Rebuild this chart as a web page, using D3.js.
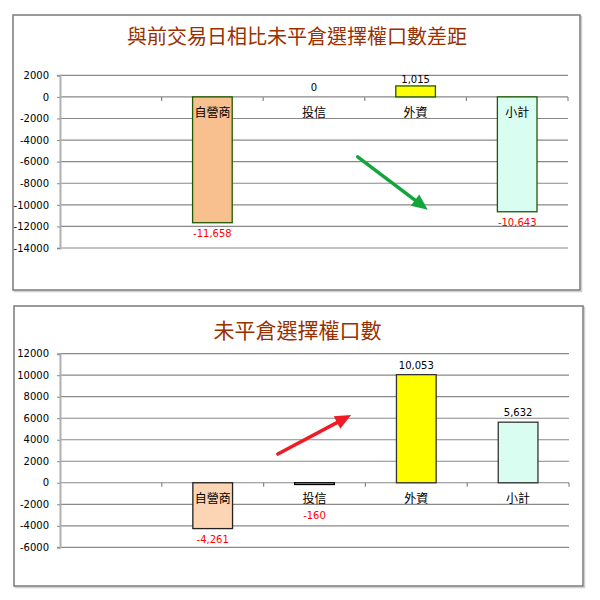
<!DOCTYPE html>
<html>
<head>
<meta charset="utf-8">
<script src="https://cdn.jsdelivr.net/npm/d3@7"></script>
<style>
  body { margin: 0; background: #fff; }
  svg { display: block; }
</style>
</head>
<body>
<script>
// categories (first slot is an empty band, like the sheet it came from)
const categories = ["", "自營商", "投信", "外資", "小計"];

// top chart: change vs previous trading day
const diffTitle = "與前交易日相比未平倉選擇權口數差距";
const diffValues = [null, -11658, 0, 1015, -10643];
const diffTicks = [2000, 0, -2000, -4000, -6000, -8000, -10000, -12000, -14000];
const diffArrowFrom = [2.93, -5560];   // [band units, value]
const diffArrowTo = [3.62, -10460];

// bottom chart: open interest
const oiTitle = "未平倉選擇權口數";
const oiValues = [null, -4261, -160, 10053, 5632];
const oiTicks = [12000, 10000, 8000, 6000, 4000, 2000, 0, -2000, -4000, -6000];
const oiArrowFrom = [2.14, 2670];
const oiArrowTo = [2.86, 6300];

// excel style: plain hyphen for negatives
const fmt = function (v) { return d3.format(",")(v).replace("\u2212", "-"); };
const fmtTick = function (v) { return d3.format("d")(v).replace("\u2212", "-"); };

const svg = d3.select("body").append("svg")
    .attr("width", 600)
    .attr("height", 600);

function drawPanel(opts) {
    var g = svg.append("g");

    // frame
    g.append("rect")
        .attr("x", opts.box[0] + 1.5).attr("y", opts.box[1] + 1.5)
        .attr("width", opts.box[2]).attr("height", opts.box[3])
        .attr("fill", "none").attr("stroke", "#d0d0d0").attr("stroke-width", 1.5);
    g.append("rect")
        .attr("x", opts.box[0]).attr("y", opts.box[1])
        .attr("width", opts.box[2]).attr("height", opts.box[3])
        .attr("fill", "#fff").attr("stroke", "#7a7a7a").attr("stroke-width", 1.5);

    // title
    g.append("text")
        .attr("x", (opts.box[0] + opts.box[0] + opts.box[2]) / 2 + opts.titleShift)
        .attr("y", opts.titleY)
        .attr("text-anchor", "middle")
        .attr("dominant-baseline", "central")
        .style("font-family", "'Noto Sans CJK TC', 'Noto Sans CJK SC', sans-serif")
        .style("font-size", opts.titleSize + "px")
        .style("fill", "#9a3000")
        .text(opts.title);

    var x = d3.scaleBand().domain(categories).range(opts.xRange).padding(0);
    var y = d3.scaleLinear().domain(opts.yDomain).range(opts.yRange);
    var xAt = function (t) { return opts.xRange[0] + t * x.step(); };

    // gridlines
    g.append("g").selectAll("line").data(opts.ticks).join("line")
        .attr("x1", opts.xRange[0]).attr("x2", opts.xRange[1])
        .attr("y1", function (d) { return y(d); }).attr("y2", function (d) { return y(d); })
        .attr("stroke", "#888").attr("stroke-width", 1.2);

    // y axis
    var yAxis = g.append("g")
        .attr("transform", "translate(" + opts.xRange[0] + ",0)")
        .call(d3.axisLeft(y).tickValues(opts.ticks).tickSize(3).tickPadding(8).tickFormat(fmtTick));
    yAxis.select(".domain").attr("stroke", "#b0b0b0").attr("stroke-width", 2);
    yAxis.selectAll(".tick line").attr("stroke", "#888");
    yAxis.selectAll("text")
        .style("font-family", "'DejaVu Sans', sans-serif")
        .style("font-size", "10px")
        .attr("fill", "#000");

    // category ticks on the zero line
    g.append("g").selectAll("line").data(categories).join("line")
        .attr("x1", function (d) { return x(d) + x.bandwidth(); })
        .attr("x2", function (d) { return x(d) + x.bandwidth(); })
        .attr("y1", y(0)).attr("y2", y(0) + 4)
        .attr("stroke", "#888").attr("stroke-width", 1.2);

    var rows = categories.map(function (c, i) {
        return { cat: c, v: opts.values[i], fill: opts.fills[i], stroke: opts.strokes[i] };
    }).filter(function (d) { return d.v !== null; });

    var barW = x.bandwidth() * 0.39;

    // bars
    g.append("g").selectAll("rect").data(rows).join("rect")
        .attr("x", function (d) { return x(d.cat) + (x.bandwidth() - barW) / 2; })
        .attr("y", function (d) { return y(Math.max(0, d.v)); })
        .attr("width", barW)
        .attr("height", function (d) { return Math.abs(y(d.v) - y(0)); })
        .attr("fill", function (d) { return d.fill; })
        .attr("stroke", function (d) { return d.stroke; })
        .attr("stroke-width", 1.3);

    // category labels just below the zero line
    g.append("g").selectAll("text").data(rows).join("text")
        .attr("x", function (d) { return x(d.cat) + x.bandwidth() / 2; })
        .attr("y", y(0) + 20)
        .attr("text-anchor", "middle")
        .style("font-family", "'Noto Sans CJK TC', sans-serif")
        .style("font-size", "12px")
        .attr("fill", "#000")
        .text(function (d) { return d.cat; });

    // value labels
    g.append("g").selectAll("text").data(rows).join("text")
        .attr("x", function (d) { return x(d.cat) + x.bandwidth() / 2; })
        .attr("y", function (d) {
            if (d.v >= 0) return Math.max(y(d.v) - 6, opts.yRange[1] + 8);
            return Math.max(y(d.v) + 14, y(0) + 36);
        })
        .attr("text-anchor", "middle")
        .style("font-family", "'DejaVu Sans', sans-serif")
        .style("font-size", "10px")
        .attr("fill", function (d) { return d.v < 0 ? "#ff0000" : "#000"; })
        .text(function (d) { return fmt(d.v); });

    // trend arrow
    var ax1 = xAt(opts.arrowFrom[0]), ay1 = y(opts.arrowFrom[1]);
    var ax2 = xAt(opts.arrowTo[0]), ay2 = y(opts.arrowTo[1]);
    var ang = Math.atan2(ay2 - ay1, ax2 - ax1);
    var headL = 16, headW = 7;
    var bx = ax2 - headL * Math.cos(ang), by = ay2 - headL * Math.sin(ang);
    g.append("line")
        .attr("x1", ax1).attr("y1", ay1)
        .attr("x2", bx + 2 * Math.cos(ang)).attr("y2", by + 2 * Math.sin(ang))
        .attr("stroke", opts.arrowColor).attr("stroke-width", 3.5)
        .attr("stroke-linecap", "round");
    var head = [
        [ax2, ay2],
        [bx + headW * Math.sin(ang), by - headW * Math.cos(ang)],
        [bx - headW * Math.sin(ang), by + headW * Math.cos(ang)]
    ];
    g.append("polygon")
        .attr("points", head.map(function (p) { return p.join(","); }).join(" "))
        .attr("fill", opts.arrowColor);
}

drawPanel({
    box: [13, 15, 567, 275],
    title: diffTitle, titleY: 35, titleSize: 20, titleShift: 0.5,
    xRange: [60, 568], yDomain: [-14000, 2000], yRange: [248, 75.3],
    ticks: diffTicks, values: diffValues,
    fills: [null, "#f9c08f", "#ffffff", "#ffff00", "#d9fdf0"],
    strokes: [null, "#1f5a00", "#000", "#1f5a00", "#1f5a00"],
    arrowFrom: diffArrowFrom, arrowTo: diffArrowTo, arrowColor: "#13a53c"
});

drawPanel({
    box: [14, 306, 569, 280],
    title: oiTitle, titleY: 329, titleSize: 21, titleShift: -1,
    xRange: [60, 569], yDomain: [-6000, 12000], yRange: [547.3, 353.7],
    ticks: oiTicks, values: oiValues,
    fills: [null, "#fcd5b4", "#ffffff", "#ffff00", "#d9fdf0"],
    strokes: [null, "#222", "#000", "#333", "#333"],
    arrowFrom: oiArrowFrom, arrowTo: oiArrowTo, arrowColor: "#ee1c24"
});
</script>
</body>
</html>
